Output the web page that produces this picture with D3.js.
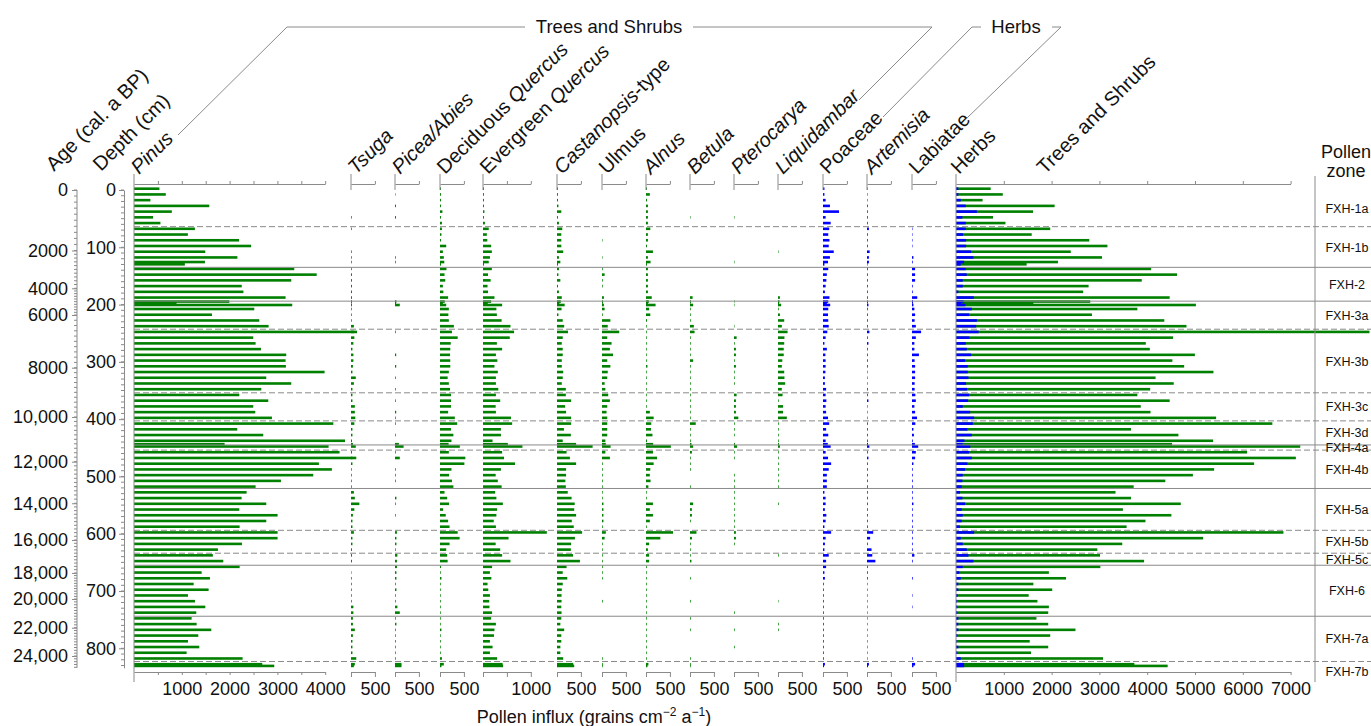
<!DOCTYPE html>
<html>
<head>
<meta charset="utf-8">
<script src="https://cdn.jsdelivr.net/npm/d3@7"></script>
<style>
  body { margin: 0; background: #fff; }
  svg { display: block; font-family: "Liberation Sans", Arial, sans-serif; }
  text { white-space: pre; }
</style>
</head>
<body>
<svg id="chart" width="1371" height="726"></svg>
<script>
// sample depths (cm)
const depths = [0,10,20,30,40,50,60,70,80,90,100,110,120,128,132,140,150,160,170,180,190,197,200,203,210,220,230,240,250,260,270,280,290,300,310,320,330,340,350,360,370,380,390,400,410,420,430,440,446,450,460,470,480,490,500,510,520,530,540,550,560,570,580,590,600,610,620,630,640,650,660,670,680,690,700,710,720,730,740,750,760,770,780,790,800,810,820,830,833]

// pollen influx, grains cm-2 a-1
const pinus = [532,665,343,1575,791,399,553,1274,1127,2198,2450,1491,2163,1484,1064,3353,3822,3290,2254,2289,3171,1995,889,3310,2516,1631,2621,2816,4665,2495,2544,2656,3185,3171,3178,3987,2767,3290,2663,2203,2809,2495,2537,2886,4170,2161,2704,4414,1896,4071,4300,4650,3868,4140,3750,3074,2544,2356,2251,2767,2203,3004,2767,2210,3004,3004,2258,1756,1650,1868,2210,1415,1589,1248,1561,1129,1275,1492,1303,1206,1310,1617,1345,1129,1366,1101,2272,2683,2934]
const tsuga = [0,0,0,0,0,15,0,15,0,0,0,15,15,15,0,15,20,20,20,20,20,20,10,20,15,15,15,60,60,70,50,30,50,50,40,30,100,60,30,30,30,80,80,90,70,30,30,20,40,100,20,30,30,15,15,15,15,60,80,175,70,40,30,30,60,30,30,20,20,20,0,10,15,15,15,15,15,50,50,40,40,80,40,30,30,30,110,80,60]
const piceaAbies = [0,10,0,20,0,20,0,0,0,0,0,0,15,15,0,0,0,0,0,0,0,30,20,100,0,0,0,0,15,0,0,0,25,0,25,0,15,0,15,0,15,0,25,15,15,0,15,0,80,180,15,100,0,15,15,15,0,0,30,15,0,15,0,0,40,30,30,15,50,40,40,30,30,15,30,15,15,50,100,15,30,15,15,15,15,15,15,135,135]
const decQuercus = [20,20,20,20,50,20,40,40,30,20,130,60,80,90,20,135,95,110,60,70,170,100,60,130,185,175,185,290,250,370,225,215,210,215,215,185,160,185,210,230,230,230,170,310,360,230,280,240,180,415,185,530,510,240,190,250,280,95,150,190,65,120,170,200,370,410,200,130,150,160,20,15,30,15,15,15,15,15,15,15,15,30,15,15,15,15,40,80,30]
const evQuercus = [20,20,20,20,30,20,40,120,80,90,170,185,145,120,20,185,105,160,95,105,240,170,100,400,280,290,390,575,650,560,290,400,270,300,240,310,270,270,320,270,360,265,270,585,610,375,375,200,520,825,400,440,670,375,265,310,390,255,280,415,295,280,225,270,1335,535,265,360,400,575,190,145,175,95,110,145,130,135,190,170,270,240,230,145,200,145,295,410,420]
const castanopsis = [20,20,20,30,90,20,40,110,90,90,90,130,40,70,20,40,30,70,20,40,100,80,50,160,95,30,120,150,230,120,100,120,120,100,100,130,120,100,185,185,295,170,190,295,295,145,290,120,400,745,200,270,400,190,190,175,185,225,305,370,360,400,310,350,525,375,295,290,335,480,200,120,215,120,100,95,95,90,95,90,70,150,90,90,70,70,130,340,360]
const ulmus = [0,0,0,0,0,0,0,0,0,10,0,0,10,0,0,15,55,15,15,0,40,20,15,40,55,15,175,120,360,110,200,165,230,110,175,120,110,55,70,130,165,110,95,110,110,110,110,70,80,180,70,165,15,15,15,15,15,15,15,30,30,30,30,15,80,55,15,15,15,15,15,15,15,0,0,0,15,0,0,0,0,0,0,0,0,0,15,15,15]
const alnus = [20,80,20,40,40,40,40,90,40,40,20,145,40,95,20,40,40,40,40,40,120,60,40,200,65,90,20,15,15,15,15,15,15,15,30,15,15,15,15,15,15,15,80,160,110,105,135,20,150,520,145,230,160,90,80,95,50,15,15,145,80,145,80,15,565,300,65,40,65,65,15,15,15,15,15,15,15,15,15,15,15,15,15,15,15,15,15,50,30]
const betula = [0,0,0,0,0,10,0,0,0,0,0,0,0,0,0,0,0,0,0,0,55,20,10,65,15,15,15,80,95,15,15,15,15,65,15,15,15,15,15,15,15,15,15,15,120,15,15,15,30,65,40,15,15,15,0,0,15,0,0,65,40,40,15,0,135,40,15,15,15,30,0,0,15,0,0,0,15,0,0,15,0,15,0,0,0,0,15,15,15]
const pterocarya = [0,0,0,0,0,10,0,0,0,0,0,0,0,10,0,0,0,0,0,0,0,10,0,10,0,0,0,10,0,55,15,40,40,15,40,15,15,15,0,55,40,40,40,90,15,15,15,0,20,65,15,15,0,0,15,15,15,15,15,15,15,15,15,15,40,40,15,0,0,0,0,0,0,0,0,0,0,0,15,0,0,15,0,0,15,0,0,0,0]
const liquidambar = [0,0,0,0,0,0,0,0,0,0,0,10,0,0,0,0,0,0,0,0,40,30,20,65,15,40,130,80,200,135,130,120,120,90,80,130,135,150,80,95,15,105,105,185,15,15,15,15,20,40,15,15,15,15,15,15,15,0,0,15,0,0,0,0,0,0,0,0,15,0,0,0,0,0,0,0,10,0,0,0,15,15,0,0,0,0,0,0,0]
const poaceae = [30,30,55,145,335,55,160,130,110,135,120,225,145,105,30,110,80,70,55,40,135,110,80,150,110,105,110,120,90,55,30,80,50,55,55,50,40,40,65,55,70,55,65,105,130,65,110,55,100,160,55,105,170,120,80,80,80,30,55,55,40,70,55,30,170,55,40,30,120,65,65,30,40,15,15,15,15,15,15,15,15,15,15,15,15,15,15,40,20]
const artemisia = [10,10,10,15,15,15,15,40,15,15,15,55,40,40,10,15,15,15,15,15,15,15,10,30,15,15,15,15,50,15,30,15,15,15,15,10,10,10,15,15,30,10,10,10,15,15,15,15,20,50,15,30,15,15,15,15,15,15,15,15,15,15,15,15,130,65,15,95,110,175,15,15,15,10,10,10,10,10,10,10,10,10,10,10,10,10,10,40,20]
const labiatae = [0,0,0,0,0,0,0,10,10,10,10,0,30,15,0,65,65,65,15,15,110,20,15,30,50,65,55,80,190,80,50,50,145,55,65,65,65,55,55,70,80,50,65,105,70,30,40,15,60,130,80,65,30,15,15,15,15,15,15,30,15,15,15,15,15,15,15,15,50,15,0,0,15,0,0,10,0,10,0,0,0,0,0,0,0,0,15,65,30]
const herbsSum = [49,49,99,204,436,134,204,204,148,211,211,317,366,169,99,204,225,141,141,49,373,160,110,200,331,275,436,422,472,282,204,225,317,190,246,246,260,211,232,275,253,141,296,380,352,239,331,176,140,300,275,331,239,190,141,134,120,84,134,190,120,141,120,84,380,99,141,225,260,366,141,70,99,49,49,35,21,28,28,49,49,49,28,14,49,28,99,169,170]
const treesSum = [725,979,556,2063,1612,774,1035,1971,1584,2788,3168,2401,3055,2133,1478,4083,4625,3886,2774,2661,4470,2809,1619,5019,3794,2844,4358,4822,8650,4541,3971,4055,4998,4527,4773,5386,4175,4555,4062,3794,4470,3865,4069,5442,6618,3661,4653,5379,4520,7202,6090,7110,6237,5400,4956,4379,3717,3337,3661,4703,3492,4506,3964,3569,6850,5170,3478,2957,3013,3935,3020,1943,2302,1619,2013,1521,1704,1943,1929,1683,1929,2499,1971,1542,1929,1570,3076,3731,4428]

// age-depth ticks
const ageTicks = [0,2000,4000,6000,8000,10000,12000,14000,16000,18000,20000,22000,24000]
const ageTickDepths = [0,105.6,171.6,218.2,310.2,396.2,474.2,546.8,610.9,668.5,713.9,764,813.4]

// pollen zones
const zoneNames = ['FXH-1a','FXH-1b','FXH-2','FXH-3a','FXH-3b','FXH-3c','FXH-3d','FXH-4a','FXH-4b','FXH-5a','FXH-5b','FXH-5c','FXH-6','FXH-7a','FXH-7b']
const zoneTops = [0,64,135,194,243,354,403,445,454,521,594,634,655,744,823]
const zoneBottom = 859

// config ------------------
const pxPerUnit = 0.0478
const green = '#008000'
const blue = '#0000ff'
const grey = '#8a8a8a'
const font = '"Liberation Sans", Arial, sans-serif'
const barH = 2.6
const topY = 184
const botY = 672

const y = d3.scaleLinear().domain([0, 834]).range([190, 190 + 834 * 0.5729])

const panels = [
    {name: [['Pinus', 1]], values: pinus, x0: 134, max: 4000, step: 500, lab: d => d % 1000 == 0 ? d : '', full: true},
    {name: [['Tsuga', 1]], values: tsuga, x0: 351, max: 500},
    {name: [['Picea/Abies', 1]], values: piceaAbies, x0: 395, max: 500},
    {name: [['Deciduous ', 0], ['Quercus', 1]], values: decQuercus, x0: 440, max: 500},
    {name: [['Evergreen ', 0], ['Quercus', 1]], values: evQuercus, x0: 483, max: 1000, step: 500, lab: d => d == 1000 ? d : ''},
    {name: [['Castanopsis', 1], ['-type', 0]], values: castanopsis, x0: 557, max: 500},
    {name: [['Ulmus', 0]], values: ulmus, x0: 602, max: 500},
    {name: [['Alnus', 1]], values: alnus, x0: 646, max: 500},
    {name: [['Betula', 1]], values: betula, x0: 690, max: 500},
    {name: [['Pterocarya', 1]], values: pterocarya, x0: 734, max: 500},
    {name: [['Liquidambar', 1]], values: liquidambar, x0: 778, max: 500},
    {name: [['Poaceae', 0]], values: poaceae, x0: 823, max: 500, color: blue},
    {name: [['Artemisia', 1]], values: artemisia, x0: 867, max: 500, color: blue},
    {name: [['Labiatae', 0]], values: labiatae, x0: 912, max: 500, color: blue}
]
const sumPanel = {x0: 956, max: 7000}

const svg = d3.select('#chart')

function rotLabel(x, yy, parts, size) {
    const t = svg.append('text')
        .attr('transform', 'translate(' + x + ',' + yy + ') rotate(-45)')
        .attr('font-size', size)
        .attr('fill', '#111')
    parts.forEach(([s, it]) => t.append('tspan')
        .attr('font-style', it ? 'italic' : 'normal')
        .text(s))
}

function styleAxis(g) {
    g.attr('font-family', font).attr('font-size', 18)
    g.selectAll('path, line').attr('stroke', grey)
    g.selectAll('text').attr('fill', '#111')
}

// bars ---------------------
const barLayer = svg.append('g')

function drawBars(values, sc, color) {
    barLayer.append('g')
        .selectAll('rect')
        .data(depths.map((d, i) => ({depth: d, v: values[i]})).filter(d => d.v > 0))
        .join('rect')
        .attr('x', sc(0))
        .attr('y', d => y(d.depth) - barH)
        .attr('width', d => sc(d.v) - sc(0))
        .attr('height', barH)
        .attr('fill', color)
}

panels.forEach(p => {
    p.scale = d3.scaleLinear().domain([0, p.max]).range([p.x0, p.x0 + p.max * pxPerUnit])
    drawBars(p.values, p.scale, p.color || green)
})
sumPanel.scale = d3.scaleLinear().domain([0, sumPanel.max]).range([sumPanel.x0, sumPanel.x0 + sumPanel.max * pxPerUnit])
drawBars(treesSum, sumPanel.scale, green)
drawBars(herbsSum, sumPanel.scale, blue)

// panel axes ---------------
function panelAxes(sc, step, fmt, full, endTick) {
    const max = sc.domain()[1]
    const x0 = sc(0)
    const topTicks = d3.range(step, max + 1, step)
    svg.append('g')
        .attr('transform', 'translate(0,' + topY + ')')
        .call(d3.axisTop(sc).tickValues(topTicks).tickSize(3).tickSizeOuter(0).tickFormat(''))
        .call(styleAxis)

    const botTicks = full ? topTicks : [0].concat(topTicks)
    svg.append('g')
        .attr('transform', 'translate(0,' + botY + ')')
        .call(d3.axisBottom(sc).tickValues(botTicks).tickSize(endTick).tickPadding(full ? 7 : 5)
            .tickSizeOuter(0).tickFormat(fmt))
        .call(styleAxis)

    svg.append('line')
        .attr('x1', x0).attr('x2', x0)
        .attr('y1', topY - 10).attr('y2', full ? botY + 10 : topY + 6)
        .attr('stroke', grey)
}

panels.forEach(p => {
    panelAxes(p.scale, p.step || 500, p.lab || (d => d == 500 ? d : ''), !!p.full, p.full ? 3 : 5)
})
panelAxes(sumPanel.scale, 1000, d => d == 0 ? '' : d, true, 3)

// depth & age axes ---------
svg.append('g')
    .attr('transform', 'translate(124,0)')
    .call(d3.axisLeft(y).tickValues(d3.range(0, 801, 100)).tickSize(5).tickPadding(3).tickSizeOuter(0))
    .call(styleAxis)

svg.append('g')
    .selectAll('line')
    .data(d3.range(0, 831, 10))
    .join('line')
    .attr('x1', 121).attr('x2', 124)
    .attr('y1', d => y(d)).attr('y2', d => y(d))
    .attr('stroke', grey)

const yAge = d3.scaleLinear().domain(ageTicks).range(ageTickDepths.map(d => y(d)))

svg.append('g')
    .attr('transform', 'translate(77,0)')
    .call(d3.axisLeft(yAge).tickValues(ageTicks).tickSize(5).tickPadding(4).tickSizeOuter(0)
        .tickFormat(d => d >= 10000 ? d3.format(',')(d) : d))
    .call(styleAxis)
    .call(g => g.select('.domain').remove())

svg.append('line')
    .attr('x1', 77).attr('x2', 77)
    .attr('y1', y(0)).attr('y2', y(834))
    .attr('stroke', grey)

svg.append('g')
    .selectAll('line')
    .data(d3.range(0, 24801, 200).filter(a => yAge(a) <= y(834)))
    .join('line')
    .attr('x1', 74).attr('x2', 77)
    .attr('y1', d => yAge(d)).attr('y2', d => yAge(d))
    .attr('stroke', grey)

// zones --------------------
const zoneNum = n => n.match(/FXH-(\d)/)[1]

svg.append('g')
    .selectAll('line')
    .data(zoneTops.slice(1).map((d, i) => ({depth: d, dashed: zoneNum(zoneNames[i]) == zoneNum(zoneNames[i + 1])})))
    .join('line')
    .attr('x1', 134).attr('x2', 1371)
    .attr('y1', d => y(d.depth)).attr('y2', d => y(d.depth))
    .attr('stroke', grey)
    .attr('stroke-dasharray', d => d.dashed ? '6,3' : null)

svg.append('line')
    .attr('x1', 1315).attr('x2', 1315)
    .attr('y1', 176).attr('y2', y(zoneBottom))
    .attr('stroke', grey)

svg.append('g')
    .selectAll('text')
    .data(zoneNames.map((n, i) => ({name: n, top: zoneTops[i], bot: i < zoneTops.length - 1 ? zoneTops[i + 1] : zoneBottom})))
    .join('text')
    .attr('x', 1347)
    .attr('y', d => (y(d.top) + y(d.bot)) / 2 + 4.5)
    .attr('text-anchor', 'middle')
    .attr('font-size', 12.5)
    .attr('fill', '#111')
    .text(d => d.name)

svg.append('text').attr('x', 1346).attr('y', 158).attr('text-anchor', 'middle')
    .attr('font-size', 18).attr('fill', '#111').text('Pollen')
svg.append('text').attr('x', 1346).attr('y', 177).attr('text-anchor', 'middle')
    .attr('font-size', 18).attr('fill', '#111').text('zone')

// headers ------------------
rotLabel(54, 172, [['Age (cal. a BP)', 0]], 20)
rotLabel(101, 172, [['Depth (cm)', 0]], 20)
panels.forEach(p => rotLabel(p.x0 + 5, 175, p.name, 20))
rotLabel(959, 175, [['Herbs', 0]], 20)
rotLabel(1045, 175, [['Trees and Shrubs', 0]], 20)

// group brackets
const bracket = [
    'M178,135 L287,27 L525,27',
    'M693,27 L932,27 L859,100',
    'M883,117 L972,27 L981,27',
    'M1052,27 L1061,27 L967,118'
]
svg.append('g')
    .selectAll('path')
    .data(bracket)
    .join('path')
    .attr('d', d => d)
    .attr('fill', 'none')
    .attr('stroke', grey)

svg.append('text').attr('x', 609).attr('y', 33).attr('text-anchor', 'middle')
    .attr('font-size', 18.5).attr('fill', '#111').text('Trees and Shrubs')
svg.append('text').attr('x', 1016).attr('y', 33).attr('text-anchor', 'middle')
    .attr('font-size', 18.5).attr('fill', '#111').text('Herbs')

// x axis title
const title = svg.append('text')
    .attr('x', 594).attr('y', 723)
    .attr('text-anchor', 'middle')
    .attr('font-size', 18)
    .attr('fill', '#111')
title.append('tspan').text('Pollen influx (grains cm')
title.append('tspan').attr('dy', -7).attr('font-size', 12).text('\u22122')
title.append('tspan').attr('dy', 7).text(' a')
title.append('tspan').attr('dy', -7).attr('font-size', 12).text('\u22121')
title.append('tspan').attr('dy', 7).text(')')

svg.selectAll('text').attr('font-family', font)
</script>
</body>
</html>
